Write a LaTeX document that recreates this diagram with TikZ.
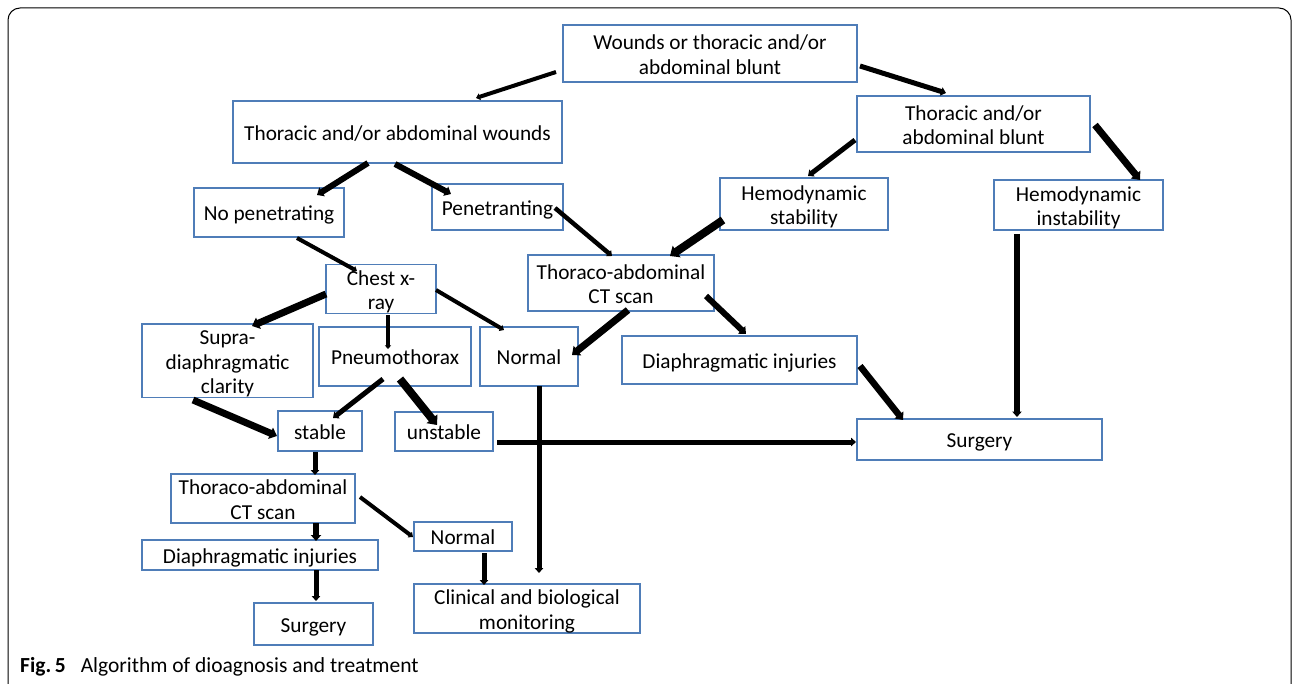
\documentclass[tikz,border=0pt]{standalone}
\usepackage{fontspec}
\setmainfont{Carlito}
\usetikzlibrary{arrows.meta,calc}
\definecolor{boxblue}{HTML}{4F7DB8}
\newcommand\tx[1]{\raisebox{-3.5pt}[\height][\depth]{\begin{tabular}{@{}c@{}}#1\end{tabular}}}
\begin{document}
\begin{tikzpicture}[x=1pt,y=-1pt,
  box/.style={draw=boxblue,line width=1.5pt,inner sep=0pt,align=center,
    font=\fontsize{21.3}{24.5}\selectfont,anchor=center},
  arr/.style={draw=black,line width=#1,-{Triangle[length=0pt 1.0,width=0pt 1.7]}},
  arr/.default=5pt]
\useasboundingbox (0,0) rectangle (1293,684);
\begin{scope}
\clip (0,0) rectangle (1293,684);
\draw[line width=1pt,rounded corners=12pt] (8,8) rectangle (1291,720);
\end{scope}
% nodes
\node[box,minimum width=294pt,minimum height=57pt] (wounds) at (710,53.5) {\tx{Wounds or thoracic and/or\\abdominal blunt}};
\node[box,minimum width=329pt,minimum height=62pt] (twounds) at (397.5,132) {\tx{Thoracic and/or abdominal wounds}};
\node[box,minimum width=233pt,minimum height=56pt] (blunt) at (973.5,124) {\tx{Thoracic and/or\\abdominal blunt}};
\node[box,minimum width=150pt,minimum height=49pt] (nopen) at (269,212.5) {\tx{No penetrating}};
\node[box,minimum width=131pt,minimum height=46pt] (pen) at (497.5,207) {\tx{Penetranting}};
\node[box,minimum width=168pt,minimum height=52pt] (hstab) at (804,204) {\tx{Hemodynamic\\stability}};
\node[box,minimum width=169pt,minimum height=50pt] (hinst) at (1078.5,205) {\tx{Hemodynamic\\instability}};
\node[box,minimum width=110pt,minimum height=46pt] (chest) at (381,289) {\tx{Chest x-\\ray}};
\node[box,minimum width=186pt,minimum height=56pt] (ctr) at (621,283) {\tx{Thoraco-abdominal\\CT scan}};
\node[box,minimum width=171pt,minimum height=68pt] (supra) at (227.5,361) {\tx{Supra-\\diaphragmatic\\clarity}};
\node[box,minimum width=152pt,minimum height=59pt] (pneumo) at (395,356.5) {\tx{Pneumothorax}};
\node[box,minimum width=98pt,minimum height=59pt] (normala) at (529,356.5) {\tx{Normal}};
\node[box,minimum width=235pt,minimum height=48pt] (diar) at (739.5,360) {\tx{Diaphragmatic injuries}};
\node[box,minimum width=84pt,minimum height=40pt] (stable) at (320,431) {\tx{stable}};
\node[box,minimum width=98pt,minimum height=39pt] (unstable) at (444,431.5) {\tx{unstable}};
\node[box,minimum width=245pt,minimum height=41pt] (surgr) at (979.5,439.5) {\tx{Surgery}};
\node[box,minimum width=184pt,minimum height=47pt] (ctl) at (263,498.5) {\tx{Thoraco-abdominal\\CT scan}};
\node[box,minimum width=98pt,minimum height=29pt] (normalb) at (463,536.5) {\tx{Normal}};
\node[box,minimum width=236pt,minimum height=30pt] (dial) at (260,555) {\tx{Diaphragmatic injuries}};
\node[box,minimum width=226pt,minimum height=49pt] (clin) at (527,608.5) {\tx{Clinical and biological\\monitoring}};
\node[box,minimum width=119pt,minimum height=42pt] (surgl) at (313.5,624) {\tx{Surgery}};
% caption
\node[anchor=base west,inner sep=0pt,font=\fontsize{21.5}{24}\selectfont] (cap) at (20,672)
  {\textbf{Fig.\,5}\hspace{15pt}Algorithm of dioagnosis and treatment};
% arrows
\draw[arr=4pt] ($(wounds.center)+(-154,18.5)$) -- ($(twounds.center)+(78.5,-34)$);
\draw[arr=5pt] ($(wounds.center)+(150,12.5)$) -- ($(blunt.center)+(-27.5,-31)$);
\draw[arr=5pt] ($(blunt.center)+(-118.5,16)$) -- ($(hstab.center)+(4,-28)$);
\draw[arr=7pt] ($(blunt.center)+(121.5,1)$) -- ($(hinst.center)+(61.5,-25)$);
\draw[arr=6pt] ($(twounds.center)+(-29.5,31)$) -- ($(nopen.center)+(48,-17.5)$);
\draw[arr=6pt] ($(twounds.center)+(-2.5,32)$) -- ($(pen.center)+(-46.5,-13)$);
\draw[arr=4.5pt] ($(pen.center)+(57.5,1)$) -- ($(ctr.center)+(-9,-27)$);
\draw[arr=8pt] ($(hstab.center)+(-81,16)$) -- ($(ctr.center)+(49,-27)$);
\draw[arr=4pt] ($(nopen.center)+(28,25.5)$) -- ($(chest.center)+(-24,-18)$);
\draw[arr=7pt] ($(chest.center)+(-55,5)$) -- ($(supra.center)+(24.5,-35)$);
\draw[arr=3.5pt] ($(chest.center)+(7,26)$) -- ($(pneumo.center)+(-7,-7.5)$);
\draw[arr=4pt] ($(chest.center)+(55,1)$) -- ($(normala.center)+(-25,-26.5)$);
\draw[arr=7pt] ($(ctr.center)+(7,27)$) -- ($(normala.center)+(43,-1.5)$);
\draw[arr=6pt] ($(ctr.center)+(85,13)$) -- ($(diar.center)+(6.5,-26)$);
\draw[arr=5pt] ($(pneumo.center)+(-12,22.5)$) -- ($(stable.center)+(13,-13)$);
\draw[arr=8pt] ($(pneumo.center)+(5,22.5)$) -- ($(unstable.center)+(-7,-6.5)$);
\draw[arr=7pt] ($(supra.center)+(-34.5,39)$) -- ($(stable.center)+(-43,5)$);
\draw[arr=5pt] ($(normala.center)+(10,29.5)$) -- ($(clin.center)+(12,-35.5)$);
\draw[arr=5pt] ($(unstable.center)+(53,10.5)$) -- ($(surgr.center)+(-123.5,2.5)$);
\draw[arr=6.5pt] ($(diar.center)+(120.5,6)$) -- ($(surgr.center)+(-76.5,-19.5)$);
\draw[arr=5.5pt] ($(hinst.center)+(-61.5,29)$) -- ($(surgr.center)+(37.5,-22.5)$);
\draw[arr=5pt] ($(stable.center)+(-5,21)$) -- ($(ctl.center)+(52,-23.5)$);
\draw[arr=4pt] ($(ctl.center)+(97,-1.5)$) -- ($(normalb.center)+(-50,0.5)$);
\draw[arr=6pt] ($(ctl.center)+(53,24.5)$) -- ($(dial.center)+(56,-14)$);
\draw[arr=5pt] ($(dial.center)+(56,15)$) -- ($(surgl.center)+(2.5,-23)$);
\draw[arr=5pt] ($(normalb.center)+(21,16.5)$) -- ($(clin.center)+(-43,-23.5)$);
\end{tikzpicture}
\end{document}
